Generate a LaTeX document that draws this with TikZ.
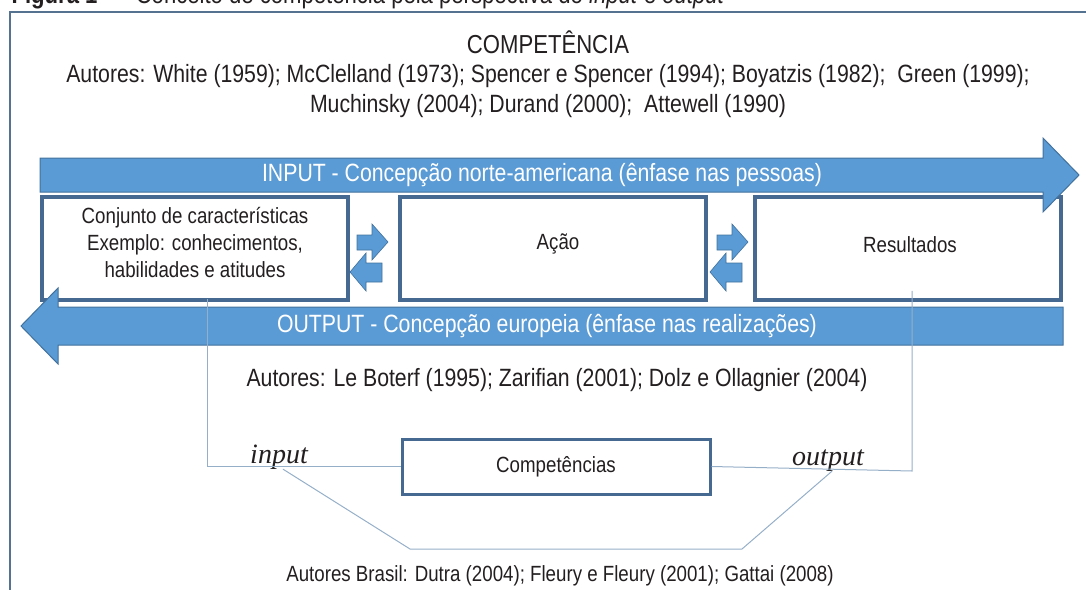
\documentclass[tikz,border=0pt]{standalone}
\usepackage{fontspec}
\setsansfont{Liberation Sans}[FakeStretch=0.85]
\newfontfamily\labelfont{Liberation Serif}
\renewcommand{\familydefault}{\sfdefault}
\definecolor{bandblue}{RGB}{91,155,213}
\definecolor{bandedge}{RGB}{65,113,156}
\definecolor{boxedge}{RGB}{70,105,145}
\definecolor{framecol}{RGB}{85,115,145}
\definecolor{linkcol}{RGB}{150,175,200}
\definecolor{txt}{RGB}{35,31,32}
\begin{document}
\begin{tikzpicture}[x=1pt,y=-1pt,
  every node/.style={text=txt},
  big/.style={font=\fontsize{25}{30}\selectfont},
  small/.style={font=\fontsize{22}{27}\selectfont},
  box/.style={draw=boxedge,line width=3.5pt,fill=white,minimum width=306pt,minimum height=103pt},
  band/.style={fill=bandblue,draw=bandedge,line width=1pt},
  link/.style={draw=linkcol,line width=1pt},
  lbl/.style={font=\labelfont\itshape\fontsize{28}{32}\selectfont,inner sep=0pt,anchor=base}]
  \useasboundingbox (0,0) rectangle (1086,589);
  % frame and caption
  \draw[framecol,line width=2.5pt] (10,12) rectangle (1120,640);
  \node[anchor=base west,font=\fontsize{26}{30}\selectfont] (caption) at (8,4)
    {\textbf{Figura 1}\enspace--\enspace Conceito de competência pela perspectiva do \textit{input} e \textit{output}};
  \node[font=\fontsize{26}{30}\selectfont] (title) at (548,42) {COMPETÊNCIA};
  \node[big,align=center] (autoresA) at (548,91)
    {Autores: White (1959); McClelland (1973); Spencer e Spencer (1994); Boyatzis (1982);~~Green (1999);\\
     Muchinsky (2004); Durand (2000);~~Attewell (1990)};
  % boxes
  \node[box] (conj) at (195,248.5) {};
  \node[box] (acao) at (553,248.5) {};
  \node[box] (res) at (908,248.5) {};
  \node[small,align=center] (conjtxt) at ([yshift=6pt]conj.center)
    {Conjunto de características\\Exemplo: conhecimentos,\\habilidades e atitudes};
  \node[small] (acaotxt) at ([shift={(5,-5)}]acao.center) {Ação};
  \node[small] (restxt) at ([shift={(2,-4)}]res.center) {Resultados};
  % big arrows
  \draw[band] (40,158) -- (1043,158) -- (1043,138) -- (1079,175) -- (1043,212) -- (1043,192) -- (40,192) -- cycle;
  \node[big,text=white] (input) at (542,175) {INPUT - Concepção norte-americana (ênfase nas pessoas)};
  \draw[band] (1063,307) -- (58,307) -- (58,288) -- (21,326) -- (58,364) -- (58,345) -- (1063,345) -- cycle;
  \node[big,text=white] (output) at (547,326) {OUTPUT - Concepção europeia (ênfase nas realizações)};
  % small arrows between boxes
  \foreach \dx in {0,360} {
    \draw[band,line width=0.6pt,shift={(\dx,0)}] (357,235) -- (372,235) -- (372,224) -- (388,242)
      -- (372,260) -- (372,250) -- (357,250) -- cycle;
    \draw[band,line width=0.6pt,shift={(\dx,0)}] (382,263) -- (366,263) -- (366,253) -- (350,272)
      -- (366,291) -- (366,282) -- (382,282) -- cycle;
  }
  % lower part
  \node[big] (autoresB) at (557,380) {Autores: Le Boterf (1995); Zarifian (2001); Dolz e Ollagnier (2004)};
  \node[draw=boxedge,line width=3pt,minimum width=308pt,minimum height=55pt,small] (comp) at (556,466.5) {Competências};
  \node[lbl] (inlbl) at (279,463) {input};
  \node[lbl] (outlbl) at (828,465) {output};
  \node[small] (autoresC) at (560,576) {Autores Brasil: Dutra (2004); Fleury e Fleury (2001); Gattai (2008)};
  \coordinate (rcorner) at (912,471);
  \coordinate (bl) at (410,549);
  \coordinate (br) at (742,549);
  \draw[link] ([shift={(12,-3)}]conj.south) |- (comp.west);
  \draw[link] ([shift={(4,-11)}]res.south) -- (rcorner) -- (comp.east);
  \draw[link] ([xshift=4pt]inlbl.south) -- (bl) -- (br) -- ([xshift=4pt]outlbl.south);
\end{tikzpicture}
\end{document}
